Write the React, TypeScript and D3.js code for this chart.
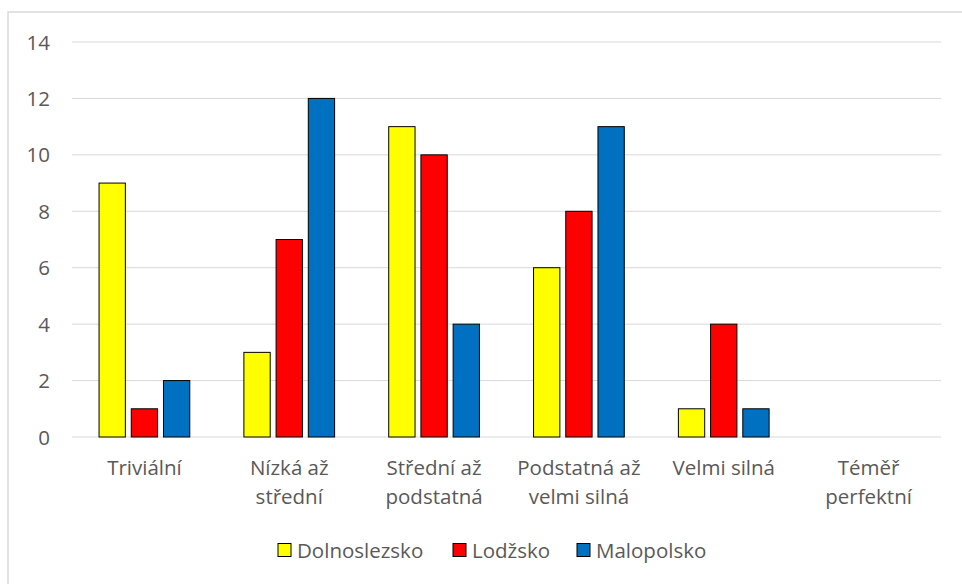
import React from "react";
import * as d3 from "d3";

const categories = [
  ["Triviální"],
  ["Nízká až", "střední"],
  ["Střední až", "podstatná"],
  ["Podstatná až", "velmi silná"],
  ["Velmi silná"],
  ["Téměř", "perfektní"],
];
const seriesNames = ["Dolnoslezsko", "Lodžsko", "Malopolsko"];
const dolnoslezsko = [9, 3, 11, 6, 1, 0];
const lodzsko = [1, 7, 10, 8, 4, 0];
const malopolsko = [2, 12, 4, 11, 1, 0];
const yTicks = [0, 2, 4, 6, 8, 10, 12, 14];

const colors = ["#FFFF00", "#FF0000", "#0070C0"];
const seriesValues = [dolnoslezsko, lodzsko, malopolsko];

const W = 962;
const H = 584;
const left = 72;
const right = 941;
const top = 42;
const bottom = 437;
const FONT = "'Open Sans', 'DejaVu Sans', sans-serif";
const TEXT = "#595959";
const GRID = "#d9d9d9";

export default function App() {
  const catKeys = categories.map((c) => c.join(" "));
  const x0 = d3.scaleBand<string>().domain(catKeys).range([left, right]).padding(0);
  const x1 = d3
    .scaleBand<string>()
    .domain(seriesNames)
    .range([0, x0.bandwidth()])
    .paddingInner(0.183)
    .paddingOuter(0.84);
  const y = d3.scaleLinear().domain([0, 14]).range([bottom, top]);

  const legendX = [278, 453, 577];

  return (
    <svg
      width={W}
      height={H}
      style={{ position: "absolute", left: 0, top: 0, display: "block", background: "#fff" }}
      fontFamily={FONT}
    >
      <rect x={8} y={12} width={1200} height={1200} fill="#fff" stroke={GRID} strokeWidth={1.5} />
      {yTicks.map((t) => (
        <g key={t}>
          <line x1={left} x2={right} y1={y(t)} y2={y(t)} stroke={GRID} strokeWidth={1} />
          <text x={50} y={y(t) + 7.5} textAnchor="end" fontSize={20.5} fill={TEXT}>
            {t}
          </text>
        </g>
      ))}
      {catKeys.map((k, ci) =>
        seriesNames.map((s, si) => {
          const v = seriesValues[si][ci];
          if (!v) return null;
          const bx = (x0(k) as number) + (x1(s) as number);
          return (
            <rect
              key={k + s}
              x={bx}
              y={y(v)}
              width={x1.bandwidth()}
              height={y(0) - y(v)}
              fill={colors[si]}
              stroke="#000"
              strokeWidth={1}
            />
          );
        })
      )}
      {categories.map((lines, ci) => (
        <text
          key={ci}
          x={(x0(catKeys[ci]) as number) + x0.bandwidth() / 2}
          textAnchor="middle"
          fontSize={20.5}
          fill={TEXT}
        >
          {lines.map((ln, li) => (
            <tspan key={li} x={(x0(catKeys[ci]) as number) + x0.bandwidth() / 2} y={475 + li * 29}>
              {ln}
            </tspan>
          ))}
        </text>
      ))}
      {seriesNames.map((s, si) => (
        <g key={s}>
          <rect x={legendX[si]} y={543.5} width={13} height={13} fill={colors[si]} stroke="#000" strokeWidth={1} />
          <text x={legendX[si] + 19} y={557.5} fontSize={20.5} fill={TEXT}>
            {s}
          </text>
        </g>
      ))}
    </svg>
  );
}
